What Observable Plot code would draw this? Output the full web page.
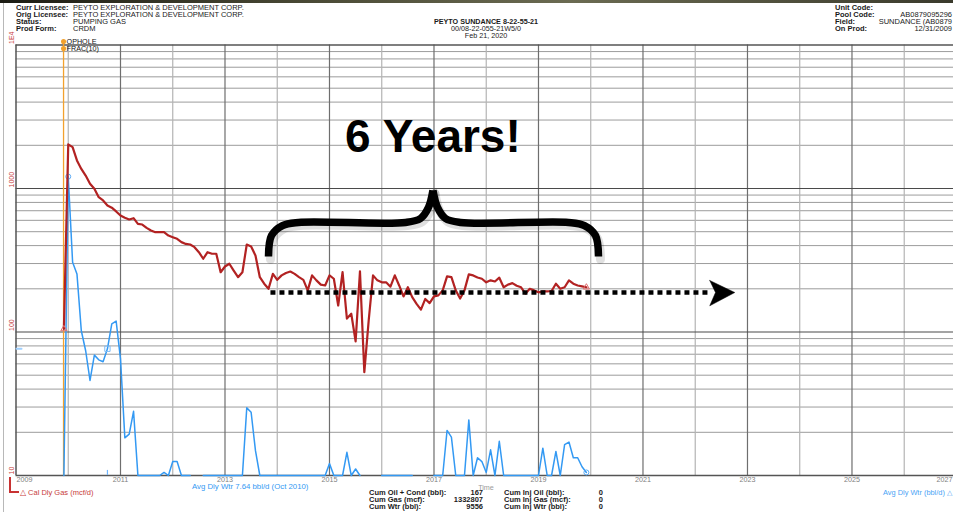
<!DOCTYPE html>
<html><head><meta charset="utf-8">
<script src="https://cdn.jsdelivr.net/npm/d3@7"></script>
<script src="https://cdn.jsdelivr.net/npm/@observablehq/plot@0.6"></script>
<style>
body{margin:0;background:#fff;}
#wrap{position:relative;width:953px;height:512px;overflow:hidden;font-family:"Liberation Sans",Arial,sans-serif;background:#fff;}
#chart{position:absolute;left:0;top:0;}
.t{position:absolute;font-size:7.5px;line-height:6px;height:6px;white-space:nowrap;color:#1a1a1a;}
.b{font-weight:bold;}
#topbar{position:absolute;left:0;top:0;width:953px;height:3px;background:linear-gradient(to right,#1c1c14,#4d4d38 35%,#6b6b52 60%,#3a3a2c);}
#lborder{position:absolute;left:3px;top:3px;width:1px;height:509px;background:#b8b8b8;}
#bracket{position:absolute;left:9px;top:477px;width:8px;height:14px;border-left:2px solid #c83232;border-bottom:2px solid #c83232;}
</style></head>
<body><div id="wrap"><div id="chart"></div><div id="topbar"></div><div id="lborder"></div><div id="bracket"></div></div>
<script>
// ---------- data ----------
const startYear = 2009, startMonth = 12;           // first production month: Dec 2009
const gasRate = [105,2030,1940,1570,1370,1230,1080,995,870,825,
  762,735,692,648,625,608,621,567,561,532,
  510,496,496,496,470,458,446,423,411,407,
  390,360,324,360,351,351,261,286,299,268,
  241,261,407,394,341,241,217,200,254,231,
  248,258,264,254,241,231,195,248,229,214,
  211,248,235,153,261,124,134,86,265,52.5,
  120,248,229,222,222,207,248,211,177,205,
  175,157,143,170,159,177,180,195,244,241,
  195,171,195,252,248,240,235,222,229,225,
  239,205,214,219,210,205,185,200,195,189,
  192,192,193,217,200,205,229,217,211,208,205];
const waterRate = [0,121,30.6,25.4,10.2,7.4,4.6,6.9,6.4,6.2,
  7.64,11.4,11.9,6.5,1.83,1.94,2.8,0,0,0,
  0,0,0,1.05,0,1.25,1.25,0,0,0,
  null,null,0,0,0,0,0,0,0,0,
  0,0,2.96,2.76,1.49,0,0,0,0,0,
  0,0,0,0,0,0,0,0,0,0,
  0,1.21,0,0,0,1.45,0,1.11,0,null,
  null,null,null,0,0,0,0,0,0,0,
  0,null,null,null,null,0,0,0,2.06,1.85,
  0,0,0,2.44,0,1.33,1.25,1.05,1.51,0,
  1.73,0,0,0,0,0,0,0,0,0,
  1.55,0,0,1.47,0,1.64,1.71,1.33,1.33,1.15,1.05];
const waterFactor = 10;      // water axis (bbl/d) is the gas axis divided by 10
const avgWaterMonth = 10;    // Oct 2010 marker
const eventYear = 2009.91;
const eventLabels = ["OPHOLE", "FRAC(10)"];
const eventLevels = [10570, 9460];

const yearTicks = [2009,2011,2013,2015,2017,2019,2021,2023,2025,2027];
const oddGridYears = [2011,2013,2015,2017,2019,2021,2023,2025];
const evenGridYears = [2010,2012,2014,2016,2018,2020,2022,2024,2026];
const yMajor = [100,1000];
const yMinor = [20,30,40,50,60,70,80,90,200,300,400,500,600,700,800,900,2000,3000,4000,5000,6000,7000,8000,9000];
const yLabelValues = [10,100,1000,10000];
const yLabelTexts = ["10","100","1000","1E4"];

// annotation (data units)
const braceLeftX  = [2013.833,2013.890,2014.100,2014.407,2016.455,2016.742,2016.895,2016.98];
const braceRightX = [2020.148,2020.091,2019.880,2019.574,2017.507,2017.220,2017.067,2016.98];
const braceY      = [336,470,552,580,580,618,738,968];
const dottedX = [2013.87, 2022.30];
const dottedLevel = 188.5;
const arrowX = [2022.278, 2022.757, 2022.278, 2022.388, 2022.278];
const arrowY = [228.5, 188.5, 152.3, 188.5, 228.5];
const noteText = "6 Years!";
const noteX = 2016.98, noteY = 2290;

const headLeftLabels = ["Curr Licensee:","Orig Licensee:","Status:","Prod Form:"];
const headLeftValues = ["PEYTO EXPLORATION & DEVELOPMENT CORP.","PEYTO EXPLORATION & DEVELOPMENT CORP.","PUMPING GAS","CRDM"];
const headCenter = ["PEYTO  SUNDANCE  8-22-55-21","00/08-22-055-21W5/0","Feb 21, 2020"];
const headRightLabels = ["Unit Code:","Pool Code:","Field:","On Prod:"];
const headRightValues = ["","AB0879095296","SUNDANCE (AB0879","12/31/2009"];
const cumLeftLabels = ["Cum Oil + Cond (bbl):","Cum Gas (mcf):","Cum Wtr (bbl):"];
const cumLeftValues = ["167","1332807","9556"];
const cumRightLabels = ["Cum Inj Oil (bbl):","Cum Inj Gas (mcf):","Cum Inj Wtr (bbl):"];
const cumRightValues = ["0","0","0"];

// ---------- build ----------
const t = i => startYear + (startMonth - 1 + i) / 12;
const gasData = gasRate.map((v, i) => ({x: t(i), y: v}));
const waterData = waterRate.map((v, i) => ({x: t(i), y: v == null ? NaN : Math.max(v, 1) * waterFactor}));
const braceData = [
  ...braceLeftX.map((x, i) => ({side: "L", x, y: braceY[i]})),
  ...braceRightX.map((x, i) => ({side: "R", x, y: braceY[i]}))
];
const arrowData = arrowX.map((x, i) => ({x, y: arrowY[i]}));
const RED = "#b22222", LRED = "#c83c3c", BLUE = "#3399f3", ORANGE = "#f2a12e";

const chart = Plot.plot({
  width: 953, height: 512,
  marginLeft: 15.5, marginRight: 0, marginTop: 44.5, marginBottom: 37,
  x: {domain: [2009, 2026.943], axis: null},
  y: {type: "log", domain: [10, 10000], axis: null},
  style: {fontFamily: "Liberation Sans, Arial, sans-serif", background: "transparent", overflow: "visible"},
  marks: [
    Plot.ruleY(yMinor, {stroke: "#9c9c9c", strokeWidth: 1}),
    Plot.ruleX(evenGridYears, {stroke: "#b4b4b4", strokeWidth: 1.2}),
    Plot.ruleX(oddGridYears, {stroke: "#6e6e6e", strokeWidth: 1.2}),
    Plot.ruleY(yMajor, {stroke: "#4a4a4a", strokeWidth: 1.2}),
    Plot.ruleY([10, 10000], {stroke: "#555", strokeWidth: 1.5}),
    Plot.ruleX([2009], {stroke: "#555", strokeWidth: 1.5}),
    // event
    Plot.ruleX([eventYear], {y1: 10, y2: eventLevels[0], stroke: ORANGE, strokeWidth: 1.3}),
    Plot.dot(eventLevels, {x: eventYear, y: d => d, r: 1.8, fill: ORANGE, stroke: ORANGE}),
    Plot.text(eventLevels, {x: eventYear, y: d => d, text: (d, i) => eventLabels[i], dx: 3, textAnchor: "start", fontSize: 7.2, fill: "#111"}),
    // water
    Plot.line([{x: 2009.01, y: waterRate[avgWaterMonth] * waterFactor}, {x: 2009.105, y: waterRate[avgWaterMonth] * waterFactor}], {x: "x", y: "y", stroke: "#9fd0ff", strokeWidth: 2}),
    Plot.ruleX([t(avgWaterMonth)], {y1: 10, y2: 10.85, stroke: "#6fb6ff", strokeWidth: 1.2}),
    Plot.line(waterData, {x: "x", y: "y", stroke: BLUE, strokeWidth: 1.5}),
    Plot.dot([waterData[1], waterData[waterData.length - 1]], {x: "x", y: "y", r: 2.5, stroke: "#5aaaf5", fill: "none", strokeWidth: 1}),
    Plot.dot([waterData[avgWaterMonth]], {x: "x", y: "y", symbol: "square", r: 3, stroke: "#7fbcf5", fill: "none", strokeWidth: 1}),
    // gas
    Plot.line(gasData, {x: "x", y: "y", stroke: RED, strokeWidth: 2.2}),
    Plot.dot([gasData[0], gasData[gasData.length - 1]], {x: "x", y: "y", symbol: "triangle", r: 2.3, stroke: "#e07070", fill: "none", strokeWidth: 1}),
    // annotation
    Plot.line(braceData, {x: "x", y: "y", z: "side", stroke: "#000", strokeOpacity: 0.12, strokeWidth: 9, curve: "catmull-rom", dx: 2, dy: 3}),
    Plot.line(braceData, {x: "x", y: "y", z: "side", stroke: "#000", strokeWidth: 7.5, curve: "catmull-rom", strokeLinecap: "butt"}),
    Plot.line(dottedX.map(x => ({x, y: dottedLevel})), {x: "x", y: "y", stroke: "#000", strokeWidth: 4.5, strokeDasharray: "5,4", strokeLinecap: "butt"}),
    Plot.line(arrowData, {x: "x", y: "y", stroke: "#000", fill: "#000", strokeWidth: 0.5}),
    Plot.text([noteText], {x: noteX, y: noteY, text: d => d, fontSize: 46, fontWeight: "bold", fill: "#000", fontFamily: "Liberation Sans, Arial, sans-serif"}),
    // axis labels
    Plot.text(yLabelValues, {y: d => d, text: (d, i) => yLabelTexts[i], frameAnchor: "left", dx: -4.5, dy: -1, rotate: -90, textAnchor: "start", fill: LRED, fontSize: 7}),
    Plot.text([yearTicks[0]], {x: d => d, text: d => String(d), frameAnchor: "bottom", dy: 6, textAnchor: "start", dx: 0.5, fill: "#808080", fontSize: 7.2}),
    Plot.text(yearTicks.slice(1, -1), {x: d => d, text: d => String(d), frameAnchor: "bottom", dy: 6, fill: "#808080", fontSize: 7.2}),
    Plot.text(yearTicks.slice(-1), {x: d => d, text: d => String(d), frameAnchor: "bottom", dy: 6, dx: -4, textAnchor: "end", fill: "#808080", fontSize: 7.2})
  ]
});
document.getElementById("chart").appendChild(chart);

// ---------- text overlays ----------
const wrap = document.getElementById("wrap");
function addText(txt, x, y, {bold = false, align = "left", color = "#1a1a1a", size = 7.5} = {}) {
  const d = document.createElement("div");
  d.className = "t" + (bold ? " b" : "");
  d.textContent = txt;
  d.style.left = x + "px";
  d.style.top = (y - 3) + "px";
  d.style.color = color;
  d.style.fontSize = size + "px";
  if (align === "right") d.style.transform = "translateX(-100%)";
  if (align === "center") d.style.transform = "translateX(-50%)";
  wrap.appendChild(d);
}
const headRows = [8.3, 15.2, 22.1, 29];
headLeftLabels.forEach((s, i) => addText(s, 16, headRows[i], {bold: true}));
headLeftValues.forEach((s, i) => addText(s, 73, headRows[i]));
const centerRows = [21.7, 28.8, 35.6];
headCenter.forEach((s, i) => addText(s, 486, centerRows[i], {align: "center", bold: i === 0, size: 7.2}));
headRightLabels.forEach((s, i) => addText(s, 835, headRows[i], {bold: true}));
headRightValues.forEach((s, i) => addText(s, 952, headRows[i], {align: "right"}));
const cumRows = [493.3, 500, 506.7];
cumLeftLabels.forEach((s, i) => addText(s, 369, cumRows[i], {bold: true}));
cumLeftValues.forEach((s, i) => addText(s, 483, cumRows[i], {bold: true, align: "right"}));
cumRightLabels.forEach((s, i) => addText(s, 504, cumRows[i], {bold: true}));
cumRightValues.forEach((s, i) => addText(s, 603, cumRows[i], {bold: true, align: "right"}));
addText("Time", 486, 487.5, {align: "center", color: "#9a9a9a", size: 7.2});
addText("Avg Dly Wtr 7.64 bbl/d (Oct 2010)", 192, 487, {color: BLUE, size: 7.8});
addText("\u25B3  Cal Dly Gas (mcf/d)", 20, 493.3, {color: LRED, size: 7.5});
addText("Avg Dly Wtr (bbl/d)  \u25B3", 883, 493.3, {color: "#4aa3f5", size: 7.4});
</script>
</body></html>
